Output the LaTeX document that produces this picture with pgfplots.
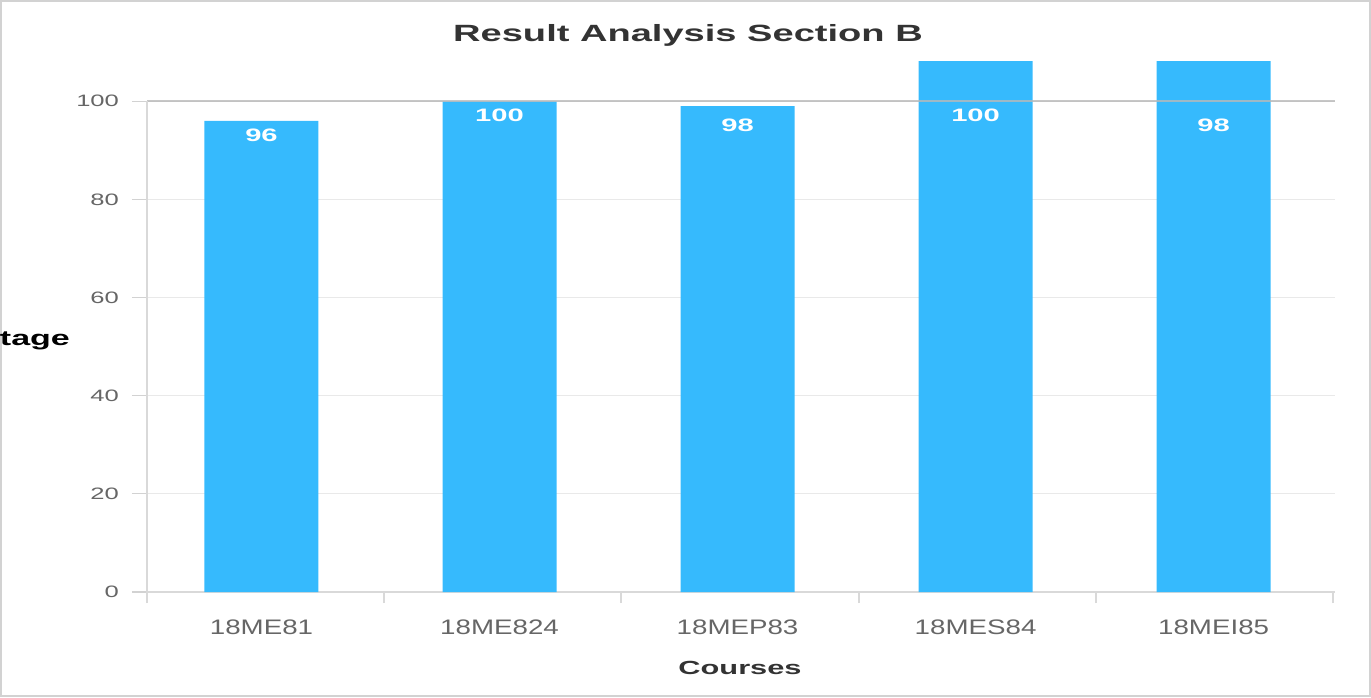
\documentclass[border=0pt]{standalone}
\usepackage{fontspec}
\setmainfont{Liberation Sans}
\newfontfamily\xtickfont{Liberation Sans}[FakeStretch=1.32]
\newfontfamily\ytickfont{Liberation Sans}[FakeStretch=1.55]
\newfontfamily\widebold{Liberation Sans Bold}[FakeStretch=1.62]
\usepackage{pgfplots}
\pgfplotsset{compat=1.18}
\definecolor{barblue}{HTML}{36BAFD}
\definecolor{titlegray}{HTML}{333333}
\definecolor{tickgray}{HTML}{666666}
\begin{document}
\begin{tikzpicture}
\useasboundingbox (0,0) rectangle (685.5pt,348.5pt);
\draw[gray!35, line width=1pt] (0.5pt,0.5pt) rectangle (685pt,348pt);
\begin{axis}[
  at={(73.5pt,52.5pt)}, anchor=south west,
  scale only axis, width=594pt, height=265pt,
  xmin=-0.481, xmax=4.51, ymin=0, ymax=108,
  axis x line*=bottom, axis y line*=left,
  y axis line style={draw=none},
  x axis line style={draw=gray!30, line width=1pt, -},
  /pgf/number format/assume math mode=true,
  ytick={0,20,40,60,80,100},
  ymajorgrids, grid style={gray!17, line width=0.6pt},
  tick align=outside,
  major tick length=7.5pt,
  ytick style={draw=gray!35, line width=0.6pt},
  yticklabel style={font=\ytickfont\fontsize{8.25}{10}\selectfont, text=tickgray, anchor=east, xshift=-3pt},
  xtick={0,1,2,3,4},
  xticklabels={18ME81,18ME824,18MEP83,18MES84,18MEI85},
  xtick style={draw=none},
  xticklabel style={font=\xtickfont\fontsize{10.5}{12}\selectfont, text=tickgray, anchor=base, yshift=-13.5pt},
  extra x ticks={-0.481,0.516,1.512,2.509,3.505,4.502},
  extra x tick labels={},
  extra x tick style={grid=none, xtick style={draw=gray!30, line width=1pt}, major tick length=5.5pt},
]
\addplot[ybar, bar width=57pt, bar shift=0pt, fill=barblue, draw=none] coordinates {(0,96)(1,100)(2,99)(3,110)(4,110)};
\addplot[gray!55, line width=1pt, opacity=0.8] coordinates {(-0.481,100)(4.51,100)};
\addplot[draw=none, mark=none, nodes near coords,
  nodes near coords style={font=\widebold\fontsize{9}{10}\selectfont, text=white, anchor=center, yshift=-7pt}]
  coordinates {(0,96)(1,100)(2,98)(3,100)(4,98)};
\end{axis}
\draw[gray!30, line width=0.8pt] (73.5pt,52.5pt) -- (73.5pt,297.9pt);
\node[font=\widebold\fontsize{11.75}{14}\selectfont, text=titlegray] at (344pt,331pt) {Result Analysis Section B};
\node[font=\widebold\fontsize{9.5}{11}\selectfont, text=titlegray] at (370pt,14.5pt) {Courses};
\node[font=\widebold\fontsize{10.5}{12}\selectfont, text=black, anchor=east] at (38.5pt,178pt) {Percentage};
\end{tikzpicture}
\end{document}
